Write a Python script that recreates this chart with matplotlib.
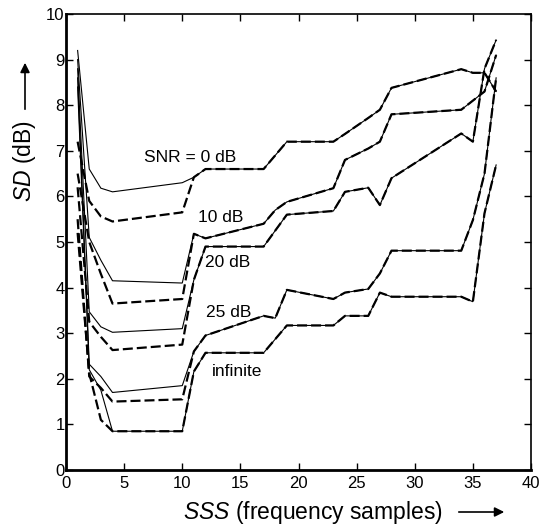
import matplotlib
matplotlib.use("Agg")
import matplotlib.pyplot as plt

plt.rcParams['font.family'] = ['Liberation Sans', 'DejaVu Sans']
plt.rcParams['mathtext.fontset'] = 'custom'
plt.rcParams['mathtext.rm'] = 'Liberation Sans'
plt.rcParams['mathtext.it'] = 'Liberation Sans:italic'

# frequency samples (x) - left part differs for solid/dashed, tail is shared
sss_left = [1, 2, 3, 4, 10]
sss_tail = [11, 12, 17, 18, 19, 23, 24, 26, 27, 28, 34, 35, 36, 37]

# SD values (dB)
snr0_solid = [9.2, 6.6, 6.18, 6.1, 6.3]
snr0_dashed = [7.2, 5.9, 5.56, 5.45, 5.65]
snr0_tail = [6.42, 6.6, 6.6, 6.9, 7.2, 7.2, 7.37, 7.72, 7.9, 8.38, 8.79, 8.71, 8.71, 8.3]

snr10_solid = [9.0, 5.1, 4.6, 4.15, 4.1]
snr10_dashed = [6.5, 5.0, 4.3, 3.65, 3.75]
snr10_tail = [5.18, 5.08, 5.4, 5.7, 5.88, 6.18, 6.8, 7.05, 7.2, 7.8, 7.9, 8.1, 8.3, 9.1]

snr20_solid = [8.8, 3.47, 3.14, 3.02, 3.1]
snr20_dashed = [6.2, 3.25, 2.92, 2.63, 2.75]
snr20_tail = [4.17, 4.9, 4.9, 5.25, 5.6, 5.68, 6.1, 6.19, 5.81, 6.4, 7.38, 7.2, 8.8, 9.43]

snr25_solid = [8.6, 2.32, 2.05, 1.7, 1.85]
snr25_dashed = [5.5, 2.05, 1.8, 1.5, 1.55]
snr25_tail = [2.6, 2.95, 3.38, 3.33, 3.95, 3.75, 3.89, 3.97, 4.31, 4.81, 4.81, 5.48, 6.5, 8.6]

inf_solid = [8.4, 2.2, 1.75, 0.85, 0.85]
inf_dashed = [5.2, 2.12, 1.1, 0.85, 0.85]
inf_tail = [2.16, 2.57, 2.57, 2.87, 3.17, 3.17, 3.38, 3.38, 3.89, 3.8, 3.8, 3.69, 5.63, 6.69]

groups = [
    (snr0_solid, snr0_dashed, snr0_tail),
    (snr10_solid, snr10_dashed, snr10_tail),
    (snr20_solid, snr20_dashed, snr20_tail),
    (snr25_solid, snr25_dashed, snr25_tail),
    (inf_solid, inf_dashed, inf_tail),
]

labels = ['SNR = 0 dB', '10 dB', '20 dB', '25 dB', 'infinite']
label_pos = [(10.66, 6.86), (13.3, 5.53), (13.9, 4.54), (14.0, 3.46), (14.7, 2.15)]

fig = plt.figure(figsize=(5.49, 5.32), dpi=100)
ax = fig.add_axes([66 / 549, 1 - 470 / 532, 465 / 549, 456 / 532])

x = sss_left + sss_tail
for solid, dashed, tail in groups:
    ax.plot(x, solid + tail, color='black', lw=0.8, solid_joinstyle='miter')
    ax.plot(x, dashed + tail, color='black', lw=1.6, dashes=(4.5, 1.8))

for txt, (lx, ly) in zip(labels, label_pos):
    ax.text(lx, ly, txt, ha='center', va='center', fontsize=12.5)

ax.set_xlim(0, 40)
ax.set_ylim(0, 10)
ax.set_xticks(range(0, 41, 5))
ax.set_yticks(range(0, 11))
ax.tick_params(direction='in', top=True, right=True, length=5, width=1,
               labelsize=12)
ax.tick_params(axis='x', pad=4)
ax.tick_params(axis='y', pad=1)
ax.spines['left'].set_linewidth(2)
ax.spines['bottom'].set_linewidth(2)
ax.spines['top'].set_linewidth(1.2)
ax.spines['right'].set_linewidth(1.2)

# axis labels with arrows
fig.text(313 / 549, 1 - 512 / 532, r'$\it{SSS}$ (frequency samples)', ha='center', va='center',
         fontsize=16.5)
fig.text(25 / 549, 1 - 161 / 532, r'$\it{SD}$ (dB)', ha='center', va='center',
         rotation=90, fontsize=16.5)
fig.patches.append(matplotlib.patches.FancyArrowPatch(
    (456 / 549, 1 - 512 / 532), (507 / 549, 1 - 512 / 532), transform=fig.transFigure,
    arrowstyle='-|>', mutation_scale=14, color='black', lw=1.2))
fig.patches.append(matplotlib.patches.FancyArrowPatch(
    (25 / 549, 1 - 112 / 532), (25 / 549, 1 - 60 / 532), transform=fig.transFigure,
    arrowstyle='-|>', mutation_scale=14, color='black', lw=1.2))

fig.savefig('out.png', dpi=100)
